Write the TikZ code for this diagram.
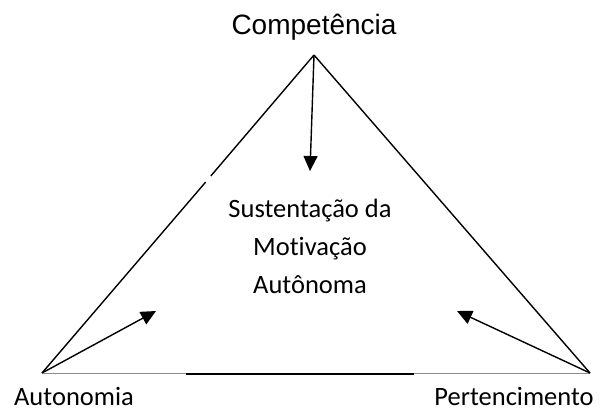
\documentclass[tikz,border=0pt]{standalone}
\usepackage{fontspec}
\setmainfont[Ligatures={NoCommon}]{Carlito}
\newfontfamily\arialfont{Liberation Sans}
\usetikzlibrary{arrows.meta}
\begin{document}
\begin{tikzpicture}[x=1pt,y=-1pt,
  edge/.style={line width=1.4pt,black},
  arr/.style={line width=1.4pt,-{Triangle[length=15pt,width=14pt]}},
  lbl/.style={inner sep=0pt,font=\fontsize{26.5}{38}\selectfont}]
\useasboundingbox (0,0) rectangle (601,413);
\coordinate (A) at (314,55);
\coordinate (L) at (42,373);
\coordinate (R) at (590,373);
\coordinate (g1) at (205.7,182);
\coordinate (g2) at (210.8,176);
\coordinate (b1) at (186,374);
\coordinate (b2) at (414,374);
\draw[edge] (L) -- (g1);
\draw[edge] (g2) -- (A);
\draw[edge] (A) -- (R);
\draw[line width=0.9pt,black!45] (L) -- (R);
\draw[line width=2pt] (b1) -- (b2);
\node[inner sep=0pt,font=\arialfont\fontsize{28}{34}\selectfont] (comp) at (314,27) {Competência};
\node[lbl,anchor=base] (auto) at (74,405) {Autonomia};
\node[lbl,anchor=base] (pert) at (514,405) {Pertencimento};
\node[lbl,align=center] (mid) at (310,246) {Sustentação da\\Motivação\\Autônoma};
\coordinate (t1) at (310,171);
\coordinate (t2) at (156,311);
\coordinate (t3) at (457,311);
\draw[arr] (A) -- (t1);
\draw[arr] (L) -- (t2);
\draw[arr] (R) -- (t3);
\end{tikzpicture}
\end{document}
